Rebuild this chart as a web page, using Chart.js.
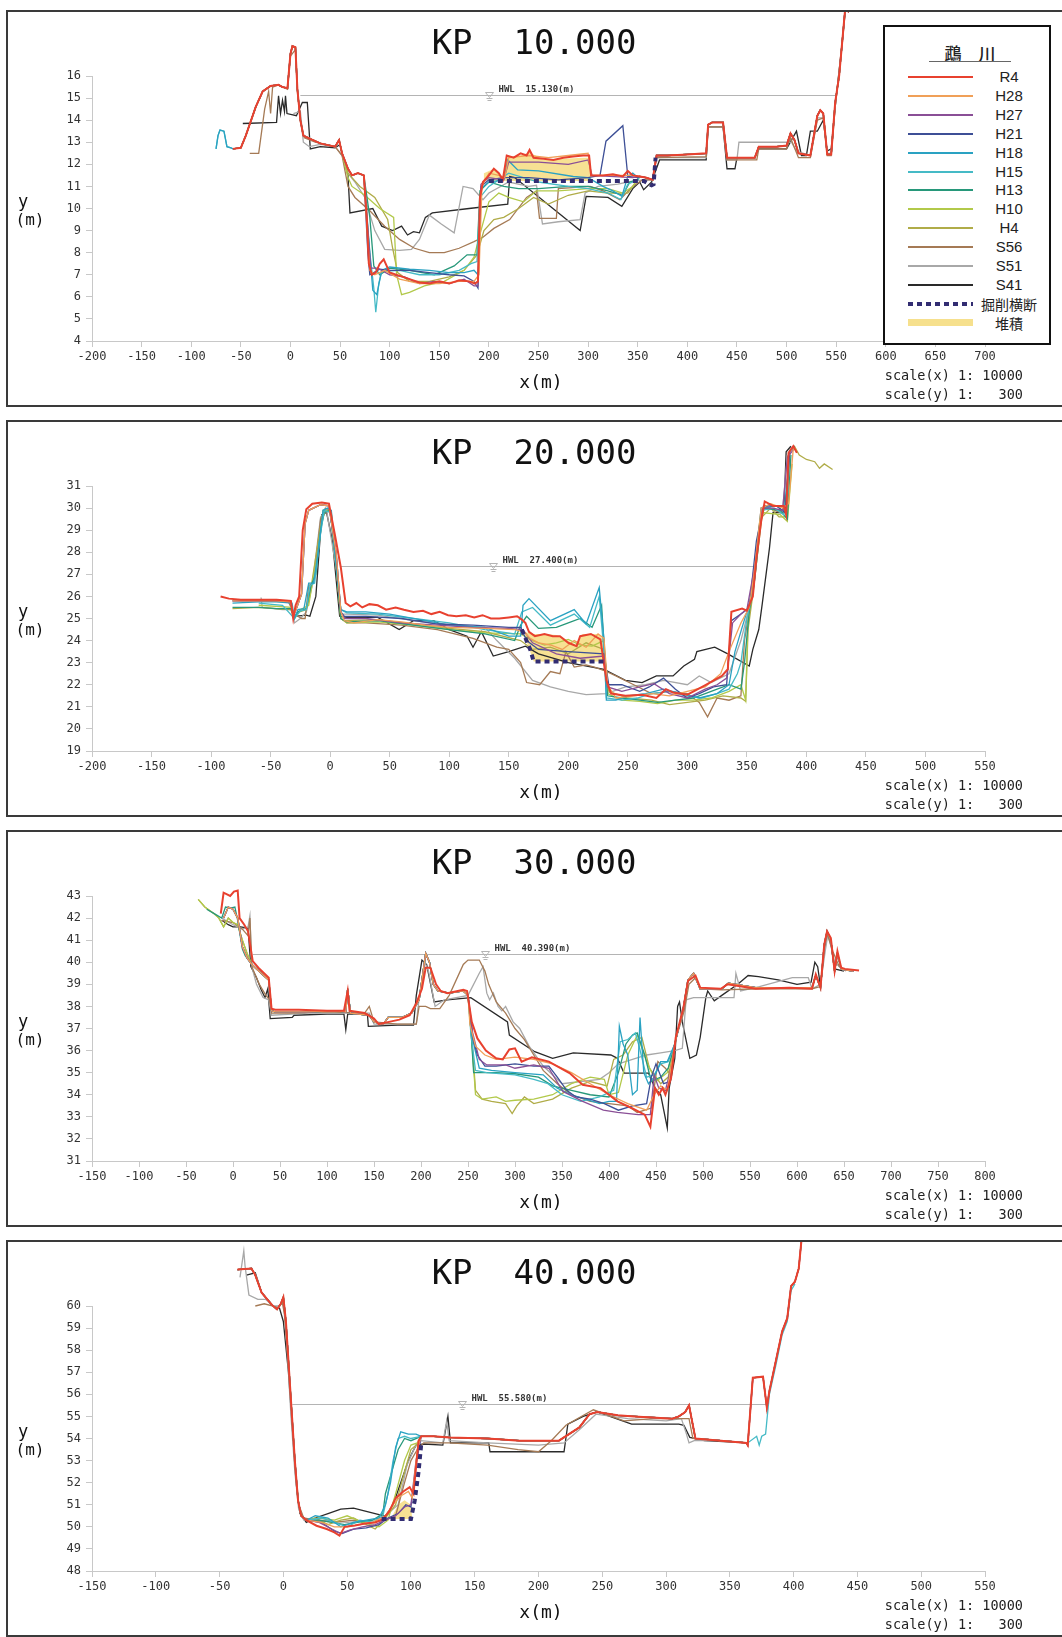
<!DOCTYPE html>
<html>
<head>
<meta charset="utf-8">
<script src="https://cdn.jsdelivr.net/npm/chart.js@4.4.1/dist/chart.umd.min.js"></script>
<style>
  html, body { margin: 0; padding: 0; background: #fff; }
  body { width: 1062px; height: 1637px; position: relative; overflow: hidden; font-family: "Liberation Sans", sans-serif; }
  .panel { position: absolute; left: 6px; width: 1058px; height: 397px; border: 2px solid #3a3a3a; box-sizing: border-box; }
  .panel canvas { position: absolute; left: 0; top: 0; }
  #legend { position: absolute; left: 883px; top: 25px; width: 168px; height: 320px; border: 2px solid #111; box-sizing: border-box; background: #fff; z-index: 2; }
  #legend .ttl { position: absolute; left: 0; width: 100%; top: 17px; height: 18px; text-align: center; font: 500 17px/18px "Noto Sans CJK JP"; color: #222; padding-left: 6px; box-sizing: border-box; }
  #legend .uline { position: absolute; left: 44px; width: 82px; top: 34px; border-top: 1px solid #666; }
  #legend .row { position: absolute; left: 0; width: 100%; height: 18px; }
  #legend .smp { position: absolute; left: 23px; width: 65px; top: 8px; }
  #legend .lbl { position: absolute; left: 84px; width: 80px; top: 0; text-align: center; font: 15px "Liberation Sans"; line-height: 18px; color: #222; }
  #legend .lbl.jp { font: 14px "Noto Sans CJK JP"; line-height: 18px; }
</style>
</head>
<body>

<script>
// ---------- series (legend order; first one ends up on top) ----------
const SERIES_NAMES  = ["R4", "H28", "H27", "H21", "H18", "H15", "H13", "H10", "H4", "S56", "S51", "S41"];
const SERIES_COLORS = ["#e8412f", "#f0a058", "#8a4f96", "#3d4f96", "#2aa2c2", "#45bac6", "#27987a",
                       "#b2c94a", "#b0ac48", "#a57a55", "#a8a8a8", "#2a2a2a"];
const EXCAV_LABEL   = "掘削横断";
const DEPOSIT_LABEL = "堆積";
const RIVER_NAME    = "鵡　川";

// ========== KP 10.000 ==========
const kp10_tealL = [[-75,12.7],[-73,13.3],[-71,13.55],[-67,13.5],[-64,12.8],[-60,12.75]];
const kp10_bankL = [[-58,12.7],[-50,12.75],[-45,13.3],[-35,14.6],[-28,15.3],[-20,15.55],[-12,15.6],[-8,15.5],[-3,15.45],
  [0,17.0],[2,17.35],[5,17.3],[7,15.4],[10,14.0],[13,13.3],[20,13.15],[30,12.95],[45,12.8],[49,13.1],[52,12.5]];
const kp10_step = [[58,11.8],[62,11.5],[68,11.6],[74,11.5]];
const kp10_bankR = [[352,11.45],[358,11.4],[365,11.3],[369,12.4],[380,12.4],[400,12.45],[419,12.5],[421,13.8],[425,13.9],
  [436,13.9],[440,12.3],[455,12.3],[468,12.3],[472,12.8],[490,12.8],[500,12.85],[504,13.4],[508,13.1],[512,12.5],[524,12.4],
  [531,14.2],[534,14.45],[537,14.3],[541,12.45],[545,12.45],[549,14.8],[553,16.0],[556,17.5],[559,19.0],[563,18.9]];
const kp10_R4_ch = [[77,9.5],[79,7.5],[82,7.0],[86,7.1],[90,7.5],[94,7.7],[100,7.1],[110,6.95],[120,6.8],[130,6.65],[140,6.6],
  [150,6.7],[160,6.6],[170,6.75],[180,6.7],[186,6.6],[189,6.7],[191,10.5],[194,11.2],[200,11.5],[205,11.8],[210,11.6],[214,11.3],
  [218,12.4],[225,12.3],[232,12.5],[238,12.4],[241,12.65],[245,12.3],[255,12.25],[265,12.2],[275,12.3],[285,12.35],[295,12.4],
  [301,12.4],[303,11.5],[315,11.5],[325,11.55],[335,11.45],[340,11.7],[345,11.5]];
const kp10_H28_ch = [[78,8.5],[80,7.2],[85,7.0],[95,7.2],[110,6.8],[130,6.6],[150,6.6],[170,6.7],[185,6.7],[190,7.0],[193,11.0],
  [200,11.6],[210,11.5],[216,11.4],[220,12.3],[240,12.4],[260,12.3],[280,12.4],[300,12.5],[303,11.5],[330,11.5],[345,11.5]];
const kp10_H27_ch = [[78,9.0],[81,7.3],[88,7.3],[100,7.0],[115,6.9],[130,6.6],[145,6.7],[160,6.6],[175,6.8],[185,6.5],[189,6.5],
  [192,11.1],[200,11.4],[215,11.3],[220,12.1],[250,12.1],[280,12.0],[300,12.2],[304,11.5],[345,11.4]];
const kp10_H21_ch = [[78,8.0],[80,7.0],[90,7.25],[100,7.2],[120,7.2],[140,7.1],[160,7.0],[175,6.95],[185,6.7],[189,6.4],[192,11.0],
  [200,11.3],[215,11.4],[240,11.4],[270,11.3],[300,11.4],[312,11.5],[318,13.05],[335,13.75],[340,11.45],[350,11.4]];
const kp10_H18_ch = [[79,8.5],[83,6.3],[87,6.1],[92,7.2],[100,7.35],[120,7.25],[140,7.2],[160,7.1],[175,7.1],[185,7.2],[189,7.0],
  [192,10.9],[200,11.2],[215,11.3],[219,12.2],[229,11.75],[250,11.7],[285,11.45],[300,11.4],[315,11.0],[325,10.8],[334,10.55],
  [340,11.45],[345,11.6],[350,11.4]];
const kp10_H15_ch = [[80,8.0],[84,6.4],[86,5.3],[89,6.6],[92,7.15],[110,7.2],[130,7.0],[150,7.0],[170,7.2],[182,7.5],[188,7.6],
  [191,10.5],[200,11.0],[220,11.6],[250,11.2],[280,11.0],[300,10.9],[320,10.7],[333,10.4],[340,11.1],[350,11.3]];
const kp10_H13_ch = [[80,9.6],[84,7.4],[90,7.0],[100,7.3],[120,7.2],[145,7.0],[165,7.4],[178,7.9],[188,7.9],[191,10.8],[200,11.2],
  [215,11.0],[230,10.9],[250,10.9],[280,11.0],[300,11.0],[320,10.8],[335,10.6],[342,11.2],[350,11.3]];
const kp10_H10_ch = [[58,11.4],[62,11.0],[75,10.6],[90,10.0],[104,9.6],[107,7.0],[112,6.1],[120,6.2],[135,6.5],[155,6.7],[175,7.2],
  [185,7.8],[192,9.0],[200,10.3],[210,10.7],[220,10.5],[235,10.3],[248,10.8],[270,10.8],[300,10.9],[320,10.9],[335,10.7],[345,11.0]];
const kp10_H4_ch = [[58,11.6],[62,11.4],[70,11.0],[85,10.5],[98,9.5],[103,8.2],[108,7.1],[120,6.7],[140,6.7],[160,6.9],[175,7.2],
  [188,7.9],[195,9.0],[205,9.5],[215,9.6],[230,10.0],[245,10.5],[260,10.2],[280,10.6],[300,10.8],[320,10.7],[340,10.7]];
const kp10_S56 = [[-41,12.5],[-32,12.5],[-26,14.5],[-22,15.3],[-20,14.3],[-18,15.5],[-12,15.6],[-3,15.4],[0,16.9],[5,17.2],
  [7,15.3],[10,14.0],[14,13.2],[25,13.0],[45,12.8],[52,12.4],[58,11.0],[65,10.5],[80,9.9],[95,9.2],[110,8.6],[125,8.2],
  [140,8.0],[155,8.0],[170,8.2],[185,8.5],[194,8.7],[205,9.1],[221,9.5],[238,10.5],[248,10.8],[251,9.55],[268,9.55],
  [270,10.9],[302,11.0],[315,10.8],[332,10.4],[345,11.0],[355,11.3],[365,11.3],[369,12.3],[419,12.35],[421,13.7],[436,13.7],
  [440,12.2],[470,12.2],[472,12.7],[500,12.7],[504,13.2],[512,12.3],[524,12.3],[531,14.0],[537,14.1],[541,12.4],[545,12.4],
  [549,14.6],[556,17.4],[559,18.9]];
const kp10_S51 = [[3,14.3],[10,14.4],[13,13.0],[19,12.8],[30,12.9],[45,12.8],[52,12.4],[58,11.6],[65,11.2],[75,10.5],[85,9.0],
  [95,8.15],[110,8.1],[122,8.15],[130,8.6],[140,9.7],[152,9.3],[165,8.9],[174,11.0],[184,10.9],[194,10.4],[200,10.7],[220,11.2],
  [240,11.0],[248,11.05],[254,9.3],[270,9.4],[292,9.5],[297,10.7],[310,11.0],[330,11.1],[340,11.2],[355,11.3],[365,11.3],
  [369,12.3],[419,12.3],[421,13.7],[436,13.7],[440,12.2],[450,12.2],[452,13.0],[480,13.0],[505,13.0],[510,12.6],[524,12.4],
  [531,14.1],[537,14.1],[541,12.5],[545,12.5],[549,14.6],[556,17.4],[559,18.9]];
const kp10_S41 = [[-48,13.85],[-14,13.9],[-12,15.1],[-10,14.3],[-8,14.9],[-6,14.4],[-5,15.1],[-3.5,14.3],[6,14.2],[12,14.8],
  [17,14.8],[20,12.7],[30,12.8],[45,12.75],[50,12.9],[53,12.3],[58,11.5],[60,9.8],[83,10.0],[92,9.2],[103,9.0],[112,9.2],
  [118,8.8],[124,8.95],[130,8.9],[136,9.6],[143,9.8],[180,10.0],[219,10.2],[221,11.45],[226,11.4],[292,9.0],[298,10.55],
  [320,10.5],[334,10.1],[345,10.9],[352,11.2],[356,10.85],[364,11.2],[372,12.2],[419,12.2],[421,13.7],[436,13.7],[440,11.8],
  [448,11.8],[450,12.3],[468,12.3],[472,12.7],[500,12.7],[510,13.5],[515,12.4],[520,12.4],[524,13.5],[531,13.5],[537,14.0],
  [541,12.6],[545,12.7],[549,14.6],[556,17.5],[559,18.9]];
const kp10_excav = [[200,11.25],[356,11.25],[364,11.05],[366,11.1],[368,12.3]];
const kp10_depTop = [[195,11.6],[205,11.8],[214,11.4],[218,12.3],[232,12.4],[241,12.55],[255,12.2],[275,12.25],[295,12.3],[302,12.3],[303,11.25]];
const kp10_depBot = [[303,11.25],[200,11.25],[195,11.3]];

// ========== KP 20.000 ==========
const kp20_bankL = [[-82,25.8],[-60,25.8],[-45,25.8],[-33,25.75],[-31,25.1],[-28,25.5],[-24,26.1],[-21,29.3],[-18,29.9],
  [-8,30.15],[-1,30.1],[5,28.0],[9,25.3]];
const kp20_R4 = [[-92,26.0],[-85,25.9],[-75,25.85],[-60,25.85],[-45,25.85],[-33,25.8],[-31,25.0],[-29,25.6],[-26,26.0],
  [-23,29.0],[-20,29.95],[-15,30.2],[-7,30.25],[-1,30.2],[4,28.8],[9,27.3],[13,25.7],[17,25.55],[22,25.7],[27,25.5],[33,25.65],
  [40,25.6],[47,25.4],[55,25.5],[62,25.4],[70,25.3],[78,25.35],[85,25.2],[92,25.3],[99,25.15],[106,25.1],[114,25.15],[121,25.05],
  [128,25.15],[135,25.0],[142,25.0],[150,25.05],[157,25.1],[161,24.95],[164,24.8],[167,24.4],[172,24.2],[180,24.3],[187,24.2],
  [193,24.2],[200,23.9],[207,23.75],[210,24.2],[219,24.3],[227,24.05],[232,22.2],[236,21.6],[248,21.5],[262,21.55],[274,21.4],
  [282,21.8],[288,21.65],[300,21.55],[314,21.95],[329,22.4],[334,22.7],[337,25.3],[346,25.45],[350,25.35],[355,26.0],[358,27.7],
  [362,29.4],[365,30.3],[372,30.1],[381,30.1],[383,29.7],[385,32.5],[389,32.8],[392,32.5]];
const kp20_H28_ch = [[12,24.9],[20,24.8],[40,24.95],[60,24.85],[80,24.7],[100,24.6],[130,24.55],[155,24.5],[163,24.4],[168,24.1],
  [175,23.9],[185,23.8],[195,23.6],[205,24.0],[215,23.7],[225,24.3],[230,24.1],[233,22.0],[240,21.4],[255,21.5],[270,21.6],
  [285,21.5],[300,21.7],[315,21.9],[328,22.5],[335,23.5],[345,24.8],[352,25.5],[356,27.0],[362,30.0],[370,30.2],[380,30.0],
  [385,30.2],[389,32.7],[392,32.6]];
const kp20_H27_ch = [[12,25.0],[30,25.0],[60,24.8],[90,24.7],[120,24.6],[150,24.55],[162,24.5],[170,23.9],[190,23.4],[210,23.2],
  [230,23.3],[233,21.9],[245,21.7],[260,21.9],[272,22.05],[285,21.6],[300,21.4],[315,21.8],[325,22.0],[333,22.3],[338,24.8],
  [345,25.2],[350,25.4],[357,27.5],[363,30.0],[372,30.0],[380,29.9],[384,32.3],[390,32.7]];
const kp20_H21_ch = [[12,25.1],[30,25.1],[60,25.0],[90,24.75],[120,24.7],[150,24.6],[160,24.6],[165,24.0],[175,23.6],[200,23.5],
  [230,23.4],[234,22.0],[245,22.0],[260,21.7],[268,21.9],[280,22.3],[290,21.8],[300,21.4],[310,21.6],[322,21.9],[333,22.0],
  [337,24.9],[345,25.2],[352,25.5],[358,28.5],[364,30.1],[375,30.1],[382,29.8],[386,32.6],[390,32.8]];
const kp20_H18 = [[-82,25.7],[-60,25.75],[-45,25.75],[-32,25.7],[-30,25.0],[-27,25.4],[-22,25.45],[-18,26.6],[-14,26.6],
  [-10,28.0],[-6,29.9],[-2,30.0],[1,29.9],[5,27.5],[9,25.4],[14,25.3],[30,25.3],[50,25.2],[80,24.9],[100,24.7],[130,24.6],
  [150,24.2],[160,24.2],[162,25.6],[167,25.9],[185,24.9],[205,25.4],[215,24.75],[226,26.4],[230,24.05],[232,21.3],[240,21.3],
  [250,21.5],[265,21.6],[280,21.8],[295,21.6],[310,21.4],[325,21.6],[335,22.0],[340,23.5],[346,24.6],[350,25.3],[356,26.5],
  [362,30.0],[375,30.1],[382,29.8],[386,32.6],[390,32.7]];
const kp20_H15 = [[-60,25.7],[-40,25.6],[-30,25.0],[-25,25.35],[-20,25.4],[-17,26.5],[-13,26.6],[-9,28.5],[-5,29.9],[0,29.8],
  [4,28.0],[9,25.4],[14,25.25],[40,25.2],[70,25.0],[100,24.8],[130,24.5],[155,24.3],[161,25.3],[170,25.5],[185,24.7],[205,25.2],
  [218,24.6],[226,26.0],[230,23.5],[232,21.4],[245,21.3],[258,21.4],[270,21.6],[285,21.7],[298,21.5],[312,21.4],[325,21.6],
  [335,21.8],[342,22.5],[345,23.0],[350,25.0],[356,26.5],[362,29.9],[373,30.0],[381,29.7],[386,32.5]];
const kp20_H13 = [[-82,25.5],[-60,25.5],[-45,25.45],[-33,25.45],[-30,25.0],[-27,25.3],[-20,25.45],[-16,26.5],[-12,27.0],
  [-8,29.0],[-5,29.8],[0,29.9],[5,27.5],[9,25.0],[14,24.85],[40,24.9],[70,24.7],[100,24.5],[130,24.3],[155,24.0],[160,24.7],
  [165,25.1],[175,24.55],[190,24.6],[200,24.8],[210,25.0],[220,24.6],[228,25.6],[231,23.0],[233,21.5],[245,21.4],[260,21.3],
  [275,21.2],[290,21.3],[305,21.4],[320,21.7],[335,22.0],[345,21.8],[348,23.0],[352,25.3],[357,27.0],[363,30.0],[378,29.9],
  [384,29.5],[387,32.4]];
const kp20_H10 = [[-60,25.6],[-32,25.5],[-30,25.0],[-25,25.4],[-18,25.6],[-15,26.6],[-10,28.0],[-6,29.9],[0,29.9],[5,27.5],
  [9,25.0],[14,24.8],[40,24.85],[70,24.7],[100,24.5],[130,24.35],[160,24.3],[170,24.0],[180,23.8],[190,23.9],[200,24.05],
  [210,23.8],[220,23.75],[230,24.0],[233,21.6],[245,21.3],[260,21.25],[275,21.15],[290,21.3],[305,21.3],[320,21.4],[335,21.7],
  [345,22.0],[349,21.3],[351,25.0],[357,27.0],[363,29.8],[378,29.7],[384,29.4],[388,32.0]];
const kp20_H4 = [[-82,25.45],[-60,25.5],[-33,25.4],[-30,25.0],[-26,25.3],[-20,25.4],[-16,26.4],[-8,29.2],[-4,29.9],[1,29.8],
  [5,27.4],[9,25.0],[12,24.9],[40,24.95],[70,24.75],[100,24.55],[130,24.4],[160,24.0],[170,23.6],[185,23.7],[200,23.4],
  [215,23.9],[230,23.6],[234,21.7],[250,21.4],[270,21.3],[285,21.1],[300,21.2],[315,21.3],[330,21.5],[345,21.4],[349,21.25],
  [351,24.5],[356,26.5],[361,29.5],[370,30.0],[377,29.6],[383,29.6],[386,32.6],[390,32.8],[394,32.4],[400,32.2],[407,32.1],
  [411,31.8],[415,32.0],[422,31.75]];
const kp20_S56 = [[-60,25.8],[-35,25.75],[-30,25.2],[-24,25.0],[-21,25.0],[-18,26.5],[-14,26.6],[-8,29.5],[-4,30.0],[0,29.9],
  [5,27.5],[9,25.0],[14,24.8],[30,24.8],[60,24.7],[90,24.5],[120,24.1],[140,23.7],[150,23.6],[160,23.0],[165,22.1],[176,22.0],
  [185,22.6],[193,22.5],[198,23.5],[205,22.8],[215,22.9],[222,22.8],[232,22.6],[240,22.4],[255,22.0],[270,21.6],[285,21.7],
  [300,21.6],[310,21.2],[317,20.55],[325,21.4],[335,21.3],[345,21.5],[348,24.0],[354,26.0],[360,29.0],[365,30.1],[378,29.8],
  [383,29.8],[386,32.5]];
const kp20_S51 = [[-58,25.95],[-57,25.5],[-40,25.4],[-32,25.4],[-30,24.8],[-25,25.0],[-20,25.3],[-15,26.5],[-8,29.6],[-3,29.9],
  [5,27.3],[9,25.2],[14,25.2],[40,25.15],[70,24.9],[100,24.7],[130,24.6],[140,24.0],[155,23.2],[170,22.2],[185,21.9],[200,21.7],
  [215,21.55],[232,21.6],[248,21.9],[265,22.0],[280,22.2],[300,22.0],[310,22.4],[320,22.1],[335,22.5],[345,24.0],[352,25.5],
  [357,27.5],[362,30.0],[380,29.9],[384,32.4]];
const kp20_S41 = [[-30,25.1],[-20,25.15],[-17,25.1],[-12,26.0],[-7,29.7],[-3,29.8],[2,28.5],[8,25.1],[14,25.05],[40,25.05],
  [58,24.5],[70,24.9],[87,24.9],[100,24.5],[115,24.2],[120,23.7],[127,24.4],[137,23.3],[150,23.5],[164,23.75],[175,23.4],
  [200,23.0],[230,22.7],[248,22.2],[262,22.1],[274,22.4],[288,22.4],[297,22.85],[306,23.15],[308,23.5],[323,23.7],[334,23.4],
  [352,22.85],[355,23.6],[360,24.5],[363,25.7],[369,28.2],[372,29.8],[381,29.8],[383,32.55],[387,32.8]];
const kp20_excav = [[161,24.5],[168,23.6],[171,23.05],[231,23.05]];
const kp20_depTop = [[163,24.4],[170,24.3],[180,24.3],[190,24.25],[200,24.0],[207,23.8],[212,24.3],[225,24.3],[230,24.0],[231,23.05]];
const kp20_depBot = [[231,23.05],[171,23.05],[166,23.8]];

// ========== KP 30.000 ==========
const kp30_bankL = [[-10,42.0],[-5,42.5],[0,42.4],[5,42.0],[10,40.7],[15,40.2],[20,39.9],[30,39.5],[38,39.2],[41,37.8],[45,37.75],
  [80,37.75],[110,37.8],[120,37.75],[122,38.8],[125,37.7],[145,37.6],[150,37.3],[160,37.2],[165,37.5],[180,37.5],[190,37.7],
  [198,38.3],[202,39.5],[205,40.4],[209,40.0],[213,39.0],[218,38.7],[230,38.6],[245,38.7],[250,38.5]];
const kp30_bankR = [[470,36.3],[479,37.9],[484,39.2],[490,39.5],[497,38.8],[520,38.8],[527,39.05],[556,38.85],[590,38.85],
  [616,38.85],[620,39.4],[625,38.85],[629,40.8],[632,41.4],[636,41.0],[640,39.6],[643,40.4],[647,39.7],[651,39.65],[660,39.6]];
const kp30_R4 = [[-13,42.2],[-10,43.15],[-3,43.0],[1,43.2],[5,43.25],[7,42.0],[12,41.7],[16,41.4],[21,40.05],[27,39.75],
  [38,39.3],[41,37.9],[45,37.85],[70,37.85],[100,37.8],[118,37.8],[122,38.7],[124,37.8],[140,37.7],[150,37.45],[155,37.2],
  [166,37.3],[177,37.4],[188,37.6],[195,38.15],[201,38.8],[205,39.75],[210,39.75],[216,39.0],[221,38.7],[228,38.6],[245,38.75],
  [249,38.7],[254,37.3],[260,36.55],[269,36.0],[280,35.65],[287,35.6],[294,36.05],[300,36.1],[307,35.5],[318,35.7],[336,35.5],
  [358,34.98],[372,34.45],[391,34.3],[409,33.7],[424,33.4],[438,33.1],[444,32.55],[449,34.3],[453,34.0],[457,34.3],[460,34.0],
  [466,34.75],[471,36.6],[479,37.9],[484,39.15],[492,39.4],[497,38.85],[519,38.8],[526,39.0],[556,38.8],[592,38.85],[616,38.8],
  [620,39.45],[625,38.85],[629,40.8],[632,41.4],[636,41.1],[640,39.6],[643,40.5],[647,39.75],[651,39.7],[666,39.63]];
const kp30_H28_ch = [[252,37.2],[258,36.2],[268,35.8],[280,35.6],[300,35.7],[320,35.6],[340,35.4],[360,35.0],[380,34.5],
  [400,34.0],[420,33.6],[440,33.3],[448,34.0],[455,34.4],[462,34.2]];
const kp30_H27_ch = [[255,36.8],[262,35.6],[270,35.35],[290,35.35],[300,35.2],[320,35.35],[336,35.2],[351,34.15],[372,33.7],
  [394,33.3],[409,33.2],[431,33.1],[444,33.1],[448,34.9],[453,34.3],[460,34.2],[467,35.4]];
const kp30_H21_ch = [[255,36.6],[260,35.8],[268,35.3],[280,35.3],[300,35.4],[320,35.3],[336,35.3],[345,34.8],[355,34.2],
  [365,33.9],[380,33.8],[395,33.6],[410,33.3],[425,33.5],[440,33.6],[445,34.8],[450,35.4],[458,34.5],[465,34.6]];
const kp30_H18_ch = [[255,36.5],[262,35.2],[275,35.1],[300,35.0],[330,34.9],[345,34.3],[360,34.0],[375,33.8],[390,33.6],
  [400,33.7],[408,33.7],[411,37.1],[415,36.3],[420,35.8],[425,34.0],[430,34.2],[433,37.5],[437,35.0],[442,34.5],[448,34.8],
  [455,35.5],[462,35.5]];
const kp30_H15_ch = [[253,36.8],[258,35.1],[270,35.0],[300,34.9],[320,34.7],[335,34.5],[350,34.0],[370,33.7],[390,33.9],
  [405,34.2],[412,36.4],[420,36.5],[428,36.8],[432,36.2],[440,34.8],[448,34.9],[455,35.4],[463,35.5]];
const kp30_H13_L = [[-28,42.4],[-20,42.2],[-12,42.0],[-8,42.5],[-3,42.45],[2,42.5],[5,41.9],[10,40.6],[13,40.3],[20,39.9]];
const kp30_H13_ch = [[253,37.0],[256,35.0],[280,35.0],[300,34.95],[325,34.8],[340,34.4],[360,34.2],[380,34.0],[400,33.9],
  [410,35.0],[418,36.3],[425,36.7],[430,36.8],[438,35.8],[445,34.6],[455,34.8],[463,35.2]];
const kp30_H4_L = [[-37,42.85],[-30,42.5],[-20,42.2],[-15,42.0],[-10,41.6],[-5,42.0],[0,41.8],[5,41.7],[10,41.0],[15,40.4],[20,39.9]];
const kp30_H10_ch = [[253,37.0],[258,34.0],[265,33.8],[280,33.9],[290,33.7],[300,33.75],[320,33.8],[340,34.0],[360,34.5],
  [380,34.8],[395,34.7],[400,34.0],[410,34.1],[420,35.8],[430,36.7],[440,35.5],[450,34.6],[462,35.0]];
const kp30_H4_ch = [[253,37.2],[258,34.2],[265,33.8],[275,33.7],[290,33.6],[297,33.15],[302,33.5],[310,33.9],[320,33.6],
  [340,33.8],[360,34.3],[380,34.6],[398,34.4],[405,35.6],[415,35.8],[425,36.4],[435,36.6],[443,35.2],[455,34.5],[463,34.8]];
const kp30_S56 = [[-12,41.9],[0,41.8],[10,41.5],[16,41.2],[18,42.0],[20,39.8],[28,39.0],[35,38.5],[39,38.3],[41,37.7],[60,37.7],
  [100,37.75],[140,37.7],[145,38.0],[150,37.3],[175,37.2],[195,37.2],[198,38.0],[205,38.0],[210,37.9],[220,37.9],[230,38.5],
  [245,39.9],[250,40.1],[262,40.1],[268,39.6],[272,39.0],[280,38.2],[290,37.7],[300,37.0],[310,36.5],[320,35.8],[330,35.1],
  [345,34.5],[360,34.0],[380,33.7],[400,33.6],[420,33.5],[430,33.2],[445,33.4],[452,35.5],[460,35.2],[466,34.9],[471,36.5],
  [480,37.8],[485,39.0],[492,39.3],[497,38.8],[520,38.75],[560,38.8],[600,38.8],[616,38.8],[625,38.9],[629,40.6],[632,41.3],
  [638,40.5],[645,39.8],[652,39.6]];
const kp30_S51 = [[-12,42.0],[0,41.7],[10,41.5],[16,41.6],[18,42.1],[20,39.8],[25,39.0],[32,38.4],[38,38.3],[41,37.6],[80,37.7],
  [120,37.7],[145,37.7],[150,37.2],[175,37.2],[195,37.2],[198,38.4],[204,40.0],[208,39.6],[215,38.0],[225,38.3],[250,38.5],
  [262,39.5],[266,39.8],[270,38.6],[273,38.3],[277,38.6],[282,38.0],[286,37.8],[290,38.0],[298,37.3],[305,37.0],[315,36.2],
  [330,35.3],[350,34.5],[370,34.6],[390,34.7],[400,35.0],[410,35.4],[425,35.6],[440,35.8],[455,35.9],[470,36.0],[478,36.1],
  [482,38.3],[490,38.4],[520,38.4],[533,38.4],[535,39.5],[540,38.7],[560,38.9],[595,39.3],[612,39.3],[616,38.8],[625,39.0],
  [630,40.5],[633,41.3],[640,40.0],[650,39.6]];
const kp30_S41 = [[-12,41.9],[-5,41.7],[0,41.6],[8,41.6],[16,41.55],[19,39.8],[25,39.3],[30,38.75],[34,38.4],[37,38.8],[39.6,37.45],
  [63,37.5],[65,37.6],[100,37.65],[118,37.65],[120,36.95],[122,37.65],[143,37.65],[144,37.1],[175,37.15],[192,37.15],[195,38.5],
  [201,40.1],[206,39.9],[214,38.2],[228,38.3],[253,38.4],[292,37.3],[294,36.7],[321,35.95],[340,35.65],[362,35.9],[402,35.8],
  [409,35.65],[416,34.98],[442,34.98],[449,34.3],[455,34.0],[462,32.5],[464,34.3],[470,35.65],[473,38.0],[475,38.2],[478,37.3],
  [486,35.65],[493,35.8],[497,36.6],[503,38.4],[505,38.7],[512,38.25],[520,38.5],[537,39.0],[548,39.4],[559,39.35],[580,39.2],
  [600,39.0],[615,39.1],[619,40.0],[622,39.8],[625,38.9],[629,40.6],[632,41.3],[636,41.0],[640,39.7],[650,39.6]];

// ========== KP 40.000 ==========
const kp40_bankL = [[-36,61.65],[-25,61.7],[-22,61.4],[-17,60.6],[-9,60.05],[-5,59.85],[-2,60.1],[0,60.4],[2,59.3],[6,55.7],
  [9,53.0],[11.5,51.2],[14,50.5],[18,50.3]];
const kp40_bankR = [[108,54.1],[118,54.1],[130,54.05],[160,54.0],[185,53.9],[216,53.9],[232,54.5],[240,55.1],[246,55.2],
  [262,55.05],[275,55.0],[289,54.95],[305,54.9],[310,55.0],[315,55.2],[318,55.5],[321,54.6],[323,54.0],[343,53.9],[363,53.8]];
const kp40_bankRR = [[364,53.7],[368,56.75],[376,56.8],[379,55.4],[381,56.15],[386,57.5],[391,58.85],[395,59.45],[398,60.9],
  [401,61.1],[404,61.7],[406,62.9],[408,63.6]];
const kp40_H15_RR = [[364,53.8],[371,54.1],[373,53.7],[375,54.1],[378,54.2],[381,56.0],[386,57.3],[391,58.7],[395,59.3],[398,60.7],[401,61.0]];
const kp40_R4_ch = [[26,50.05],[34,49.9],[40,49.75],[44,49.6],[48,50.0],[56,50.06],[64,50.15],[72,50.2],[78,50.35],[83,50.7],
  [88,51.3],[94,51.6],[99,51.8],[102,51.5],[106,53.9]];
const kp40_H28_ch = [[30,50.2],[40,50.0],[50,50.0],[60,50.1],[70,50.2],[80,50.5],[86,51.0],[92,51.4],[98,51.6],[101,51.3],[105,53.5]];
const kp40_H27_ch = [[28,50.2],[38,49.9],[45,49.7],[52,49.85],[62,50.0],[72,50.1],[80,50.3],[88,50.5],[95,50.9],[100,51.0],[104,53.0]];
const kp40_H21_ch = [[30,50.2],[40,49.8],[46,49.7],[55,49.9],[65,49.95],[75,50.1],[82,50.4],[90,50.6],[96,51.0],[100,50.9],[104,52.8]];
const kp40_H18_ch = [[25,50.5],[35,50.4],[45,50.0],[55,50.2],[65,50.3],[75,50.4],[80,51.0],[84,52.0],[88,53.6],[92,54.3],[98,54.2],[104,54.2]];
const kp40_H15_ch = [[30,50.4],[40,50.2],[50,50.0],[60,50.3],[70,50.2],[78,50.5],[82,51.5],[86,53.0],[90,54.0],[95,54.1],[100,54.0]];
const kp40_H13_ch = [[28,50.3],[38,50.2],[48,50.1],[58,50.2],[70,50.3],[78,50.6],[80,51.5],[85,52.5],[90,53.5],[95,54.0],[100,53.9]];
const kp40_H10_ch = [[28,50.4],[40,50.3],[50,50.5],[58,50.3],[68,50.1],[75,50.0],[82,50.3],[88,51.5],[95,53.0],[100,53.7],[105,53.8]];
const kp40_H4_ch = [[25,50.4],[35,50.1],[45,50.3],[55,50.4],[65,50.1],[72,49.9],[80,50.4],[88,51.0],[95,52.5],[100,53.5],[106,53.8]];
const kp40_S56 = [[-22,60.0],[-15,60.1],[-8,60.0],[-4,59.9],[-1,60.2],[1,59.6],[5,56.5],[9,53.0],[12,51.0],[16,50.4],[25,50.3],
  [40,50.2],[55,50.3],[70,50.2],[80,50.3],[88,50.5],[95,52.0],[100,53.0],[105,53.5],[110,53.8],[130,53.8],[160,53.7],[184,53.5],
  [200,53.4],[210,53.9],[221.5,54.6],[243,55.3],[267,54.8],[290,54.9],[310,54.9],[318,54.9],[321,54.0],[343,53.9],[364,53.8]];
const kp40_S51 = [[-34,61.3],[-31,62.5],[-30,61.8],[-27,60.5],[-20,60.3],[-14,60.3],[-8,60.0],[-3,60.0],[0,60.2],[3,58.0],[6,55.0],
  [9,52.5],[12,50.8],[16,50.3],[30,50.3],[50,50.2],[70,50.3],[80,50.5],[90,51.0],[97,52.8],[103,53.6],[108,53.9],[125,53.8],
  [128,54.8],[130,53.9],[160,53.8],[200,53.7],[220,53.8],[232,54.4],[245,55.1],[270,54.9],[300,54.8],[312,54.9],[316,54.2],
  [318,53.8],[322,53.9],[345,53.9],[364,53.8]];
const kp40_S41 = [[-29,61.4],[-22,61.5],[-17,60.6],[-8,60.0],[-3,59.9],[0,59.3],[4,57.0],[7,54.5],[10,52.0],[13,50.6],[18,50.2],
  [25,50.4],[35,50.6],[45,50.8],[55,50.85],[65,50.7],[75,50.55],[80,50.5],[86,51.0],[92,52.0],[98,53.0],[104,53.7],[110,53.75],
  [125,53.7],[129,55.0],[131,53.8],[161,53.8],[162,53.4],[220,53.4],[223,54.65],[235,55.0],[246,55.2],[273,54.65],[310,54.65],
  [314,54.6],[318.6,54.05],[330,53.9],[364,53.8]];
const kp40_excav = [[77,50.35],[100,50.35],[103,51.2],[106,52.5],[108,53.7]];
const kp40_depTop = [[85,50.45],[90,51.0],[95,51.2],[100,51.0],[101,50.35]];
const kp40_depBot = [[101,50.35],[85,50.35]];

// ---------- assemble series per panel ----------
const cat = (...parts) => [].concat(...parts);

const kp10_series = [
  cat(kp10_bankL, kp10_step, kp10_R4_ch, kp10_bankR),
  cat(kp10_bankL, kp10_step, kp10_H28_ch, kp10_bankR),
  cat(kp10_bankL, kp10_step, kp10_H27_ch, kp10_bankR),
  cat(kp10_bankL, kp10_step, kp10_H21_ch, kp10_bankR),
  cat(kp10_tealL, kp10_bankL, kp10_step, kp10_H18_ch, kp10_bankR),
  cat(kp10_tealL, kp10_bankL, kp10_step, kp10_H15_ch, kp10_bankR),
  cat(kp10_bankL, kp10_step, kp10_H13_ch, kp10_bankR),
  cat(kp10_bankL, kp10_H10_ch, kp10_bankR),
  cat(kp10_bankL, kp10_H4_ch, kp10_bankR),
  kp10_S56, kp10_S51, kp10_S41
];
const kp20_series = [
  kp20_R4,
  cat(kp20_bankL, kp20_H28_ch),
  cat(kp20_bankL, kp20_H27_ch),
  cat(kp20_bankL, kp20_H21_ch),
  kp20_H18, kp20_H15, kp20_H13, kp20_H10, kp20_H4, kp20_S56, kp20_S51, kp20_S41
];
const kp30_series = [
  kp30_R4,
  cat(kp30_bankL, kp30_H28_ch, kp30_bankR),
  cat(kp30_bankL, kp30_H27_ch, kp30_bankR),
  cat(kp30_bankL, kp30_H21_ch, kp30_bankR),
  cat(kp30_bankL, kp30_H18_ch, kp30_bankR),
  cat(kp30_bankL, kp30_H15_ch, kp30_bankR),
  cat(kp30_H13_L, kp30_bankL.slice(7), kp30_H13_ch, kp30_bankR),
  cat(kp30_H4_L, kp30_bankL.slice(7), kp30_H10_ch, kp30_bankR),
  cat(kp30_H4_L, kp30_bankL.slice(7), kp30_H4_ch, kp30_bankR),
  kp30_S56, kp30_S51, kp30_S41
];
const kp40_series = [
  cat(kp40_bankL, kp40_R4_ch, kp40_bankR, kp40_bankRR),
  cat(kp40_bankL, kp40_H28_ch, kp40_bankR, kp40_bankRR),
  cat(kp40_bankL, kp40_H27_ch, kp40_bankR, kp40_bankRR),
  cat(kp40_bankL, kp40_H21_ch, kp40_bankR, kp40_bankRR),
  cat(kp40_bankL, kp40_H18_ch, kp40_bankR, kp40_bankRR),
  cat(kp40_bankL, kp40_H15_ch, kp40_bankR, kp40_H15_RR),
  cat(kp40_bankL, kp40_H13_ch, kp40_bankR),
  cat(kp40_bankL, kp40_H10_ch, kp40_bankR),
  cat(kp40_bankL, kp40_H4_ch, kp40_bankR),
  kp40_S56, kp40_S51, kp40_S41
];

const PANELS = [
  { top: 10,   kp: "KP  10.000", xMin: -200, xMax: 700, yMin: 4,  yMax: 16, hwl: 15.13, hwlFrom: 10, hwlTo: 549, hwlMark: 200,
    series: kp10_series, excav: kp10_excav, depTop: kp10_depTop, depBot: kp10_depBot },
  { top: 420,  kp: "KP  20.000", xMin: -200, xMax: 550, yMin: 19, yMax: 31, hwl: 27.40, hwlFrom: 9, hwlTo: 358, hwlMark: 137,
    series: kp20_series, excav: kp20_excav, depTop: kp20_depTop, depBot: kp20_depBot },
  { top: 830,  kp: "KP  30.000", xMin: -150, xMax: 800, yMin: 31, yMax: 43, hwl: 40.39, hwlFrom: 21, hwlTo: 627, hwlMark: 268,
    series: kp30_series, excav: null, depTop: null, depBot: null },
  { top: 1240, kp: "KP  40.000", xMin: -150, xMax: 550, yMin: 48, yMax: 60, hwl: 55.58, hwlFrom: 7, hwlTo: 379, hwlMark: 140,
    series: kp40_series, excav: kp40_excav, depTop: kp40_depTop, depBot: kp40_depBot }
];

const toXY = arr => arr.map(p => ({ x: p[0], y: p[1] }));
const MONO = '"DejaVu Sans Mono", monospace';

// HWL line + marker under the data, titles and labels on top
const panelDecor = {
  id: "panelDecor",
  beforeDatasetsDraw(chart, args, o) {
    const { ctx, scales: { x, y } } = chart;
    const yh = Math.round(y.getPixelForValue(o.hwl)) + 0.5;
    ctx.save();
    ctx.strokeStyle = "#b4b4b4";
    ctx.lineWidth = 1;
    ctx.beginPath();
    ctx.moveTo(x.getPixelForValue(o.hwlFrom), yh);
    ctx.lineTo(x.getPixelForValue(o.hwlTo), yh);
    ctx.stroke();
    const xm = Math.round(x.getPixelForValue(o.hwlMark)) + 0.5;
    ctx.beginPath();
    ctx.moveTo(xm - 4, yh - 3); ctx.lineTo(xm + 4, yh - 3); ctx.lineTo(xm, yh + 2); ctx.closePath();
    ctx.stroke();
    ctx.beginPath();
    ctx.moveTo(xm - 3, yh + 3); ctx.lineTo(xm + 3, yh + 3);
    ctx.moveTo(xm - 2, yh + 5); ctx.lineTo(xm + 2, yh + 5);
    ctx.stroke();
    ctx.fillStyle = "#333";
    ctx.font = "bold 9px " + MONO;
    ctx.textAlign = "left";
    ctx.textBaseline = "alphabetic";
    ctx.fillText("HWL  " + o.hwl.toFixed(3) + "(m)", xm + 9, yh - 4);
    ctx.restore();
  },
  afterDraw(chart, args, o) {
    const { ctx } = chart;
    ctx.save();
    ctx.fillStyle = "#111";
    ctx.textAlign = "center";
    ctx.textBaseline = "middle";
    ctx.font = "34px " + MONO;
    ctx.fillText(o.kp, 526, 33);
    ctx.font = "18px " + MONO;
    ctx.fillText("x(m)", 533, 371);
    ctx.font = "17px " + MONO;
    ctx.fillText("y", 15, 191);
    ctx.font = "16px " + MONO;
    ctx.fillText("(m)", 22, 209);
    ctx.fillStyle = "#222";
    ctx.textAlign = "right";
    ctx.font = "13.5px " + MONO;
    ctx.fillText("scale(x) 1: 10000", 1015, 364);
    ctx.fillText("scale(y) 1:   300", 1015, 383);
    ctx.restore();
  }
};

function axisStyle(extra) {
  return Object.assign({
    type: "linear",
    grid: { display: true, drawOnChartArea: false, drawTicks: true, tickLength: 6, color: "#c8c8c8" },
    border: { display: true, color: "#c8c8c8", width: 1 }
  }, extra);
}

PANELS.forEach((p) => {
  const div = document.createElement("div");
  div.className = "panel";
  div.style.top = p.top + "px";
  const cv = document.createElement("canvas");
  cv.width = 1054; cv.height = 393;
  cv.style.width = "1054px"; cv.style.height = "393px";
  div.appendChild(cv);
  document.body.appendChild(div);

  const datasets = [];
  if (p.excav) {
    datasets.push({ label: EXCAV_LABEL, data: toXY(p.excav), borderColor: "#322d72", borderWidth: 4,
      borderDash: [5, 4], borderCapStyle: "butt", pointRadius: 0, fill: false, clip: false, tension: 0 });
  }
  p.series.forEach((s, i) => {
    datasets.push({ label: SERIES_NAMES[i], data: toXY(s), borderColor: SERIES_COLORS[i],
      borderWidth: i === 0 ? 2 : 1.3, pointRadius: 0, fill: false, clip: false, tension: 0 });
  });
  if (p.depTop) {
    datasets.push({ label: DEPOSIT_LABEL, data: toXY(p.depTop.concat(p.depBot)), borderWidth: 0,
      backgroundColor: "rgba(246,222,135,0.9)", borderColor: "rgba(0,0,0,0)", pointRadius: 0, fill: "shape", clip: false });
  }

  new Chart(cv.getContext("2d"), {
    type: "line",
    data: { datasets },
    options: {
      responsive: false,
      animation: false,
      events: [],
      layout: { padding: { left: 44, right: 77, top: 64, bottom: 34 } },
      plugins: {
        legend: { display: false },
        tooltip: { enabled: false },
        panelDecor: p
      },
      scales: {
        x: axisStyle({
          min: p.xMin, max: p.xMax,
          ticks: { color: "#333", font: { family: MONO, size: 12 }, autoSkip: false, maxRotation: 0, minRotation: 0,
                   stepSize: 50, padding: 3, callback: v => String(v) },
          afterFit: s => { s.height = 30; s.paddingLeft = 0; s.paddingRight = 0; }
        }),
        y: axisStyle({
          min: p.yMin, max: p.yMax,
          ticks: { color: "#333", font: { family: MONO, size: 12 }, autoSkip: false, stepSize: 1, padding: 5,
                   callback: v => String(v) },
          afterFit: s => { s.width = 40; s.paddingTop = 0; s.paddingBottom = 0; }
        })
      }
    },
    plugins: [panelDecor]
  });
});

// ---------- legend box (panel 1) ----------
(function buildLegend() {
  const box = document.createElement("div");
  box.id = "legend";
  const ttl = document.createElement("div");
  ttl.className = "ttl"; ttl.textContent = RIVER_NAME;
  box.appendChild(ttl);
  const ul = document.createElement("div");
  ul.className = "uline"; box.appendChild(ul);
  const rows = SERIES_NAMES.map((n, i) => ({ name: n, kind: "line", color: SERIES_COLORS[i] }));
  rows.push({ name: EXCAV_LABEL, kind: "dash", color: "#322d72" });
  rows.push({ name: DEPOSIT_LABEL, kind: "fill", color: "rgba(246,222,135,0.95)" });
  rows.forEach((r, i) => {
    const row = document.createElement("div");
    row.className = "row";
    row.style.top = (41 + i * 18.9) + "px";
    const smp = document.createElement("div");
    smp.className = "smp";
    if (r.kind === "line") { smp.style.height = "2px"; smp.style.background = r.color; }
    if (r.kind === "dash") {
      smp.style.height = "4px"; smp.style.top = "7px";
      smp.style.background = "repeating-linear-gradient(to right, " + r.color + " 0 5px, transparent 5px 9px)";
    }
    if (r.kind === "fill") { smp.style.height = "7px"; smp.style.background = r.color; smp.style.top = "5px"; }
    row.appendChild(smp);
    const lbl = document.createElement("div");
    lbl.className = "lbl" + (r.kind === "line" ? "" : " jp");
    lbl.textContent = r.name;
    row.appendChild(lbl);
    box.appendChild(row);
  });
  document.body.appendChild(box);
})();
</script>
</body>
</html>
